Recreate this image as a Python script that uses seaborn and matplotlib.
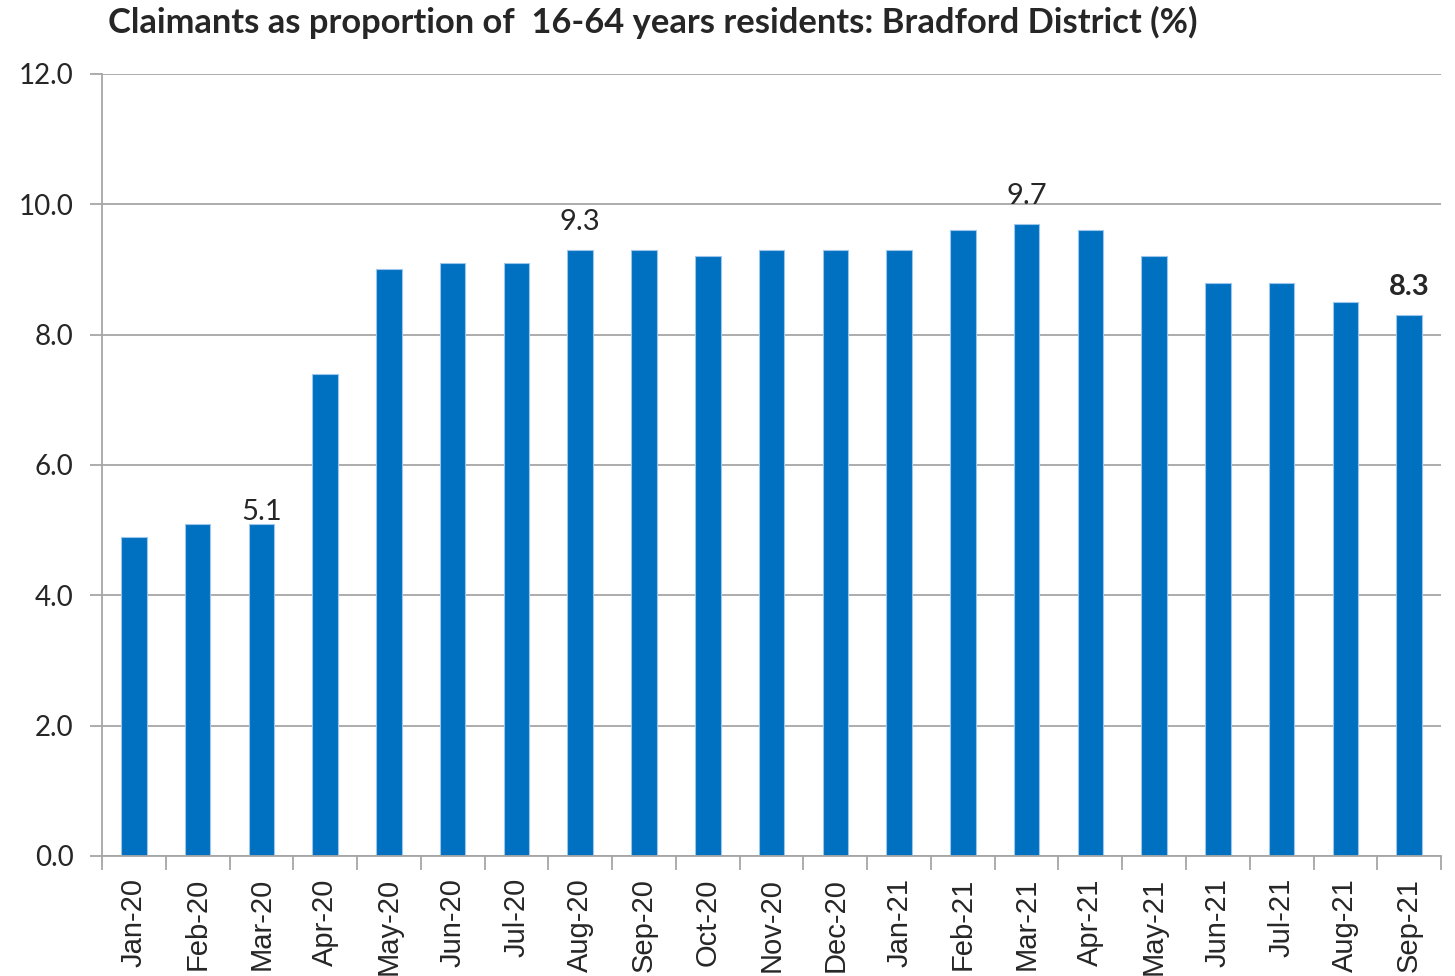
import matplotlib
matplotlib.use("Agg")
import matplotlib.pyplot as plt
import numpy as np
import pandas as pd
import seaborn as sns

MONTHS = [
    "Jan-20", "Feb-20", "Mar-20", "Apr-20", "May-20", "Jun-20", "Jul-20",
    "Aug-20", "Sep-20", "Oct-20", "Nov-20", "Dec-20", "Jan-21", "Feb-21",
    "Mar-21", "Apr-21", "May-21", "Jun-21", "Jul-21", "Aug-21", "Sep-21",
]
RATES = [
    4.9, 5.1, 5.1, 7.4, 9.0, 9.1, 9.1, 9.3, 9.3, 9.2, 9.3,
    9.3, 9.3, 9.6, 9.7, 9.6, 9.2, 8.8, 8.8, 8.5, 8.3,
]
LABELLED = ["Mar-20", "Aug-20", "Mar-21", "Sep-21"]
BOLD_LABEL = "Sep-21"
Y_TICKS = [0, 2, 4, 6, 8, 10, 12]

TITLE = "Claimants as proportion of  16-64 years residents: Bradford District (%)"
BAR_COLOR = "#0070C0"
GRID_COLOR = "#A6A6A6"
ROUND_FONT = ["Lato", "DejaVu Sans"]

sns.set_theme(style="white")
plt.rcParams["font.family"] = ["Liberation Sans", "DejaVu Sans"]

df = pd.DataFrame({"month": MONTHS, "rate": RATES})

fig = plt.figure(figsize=(14.55, 9.76), dpi=100)
ax = fig.add_axes([0.0701, 0.123, 0.9203, 0.8012])

sns.barplot(
    data=df, x="month", y="rate", color=BAR_COLOR, width=0.4,
    edgecolor="#9CC6EC", linewidth=0.8, saturation=1, ax=ax,
)

ax.set_ylim(0, 12)
ax.set_xlim(-0.5, len(MONTHS) - 0.5)
ax.set_yticks(Y_TICKS)
ax.set_yticklabels([f"{v:.1f}" for v in Y_TICKS], fontsize=20, family=ROUND_FONT)
ax.yaxis.grid(True, color=GRID_COLOR, linewidth=1.3)
ax.set_axisbelow(True)

# category ticks sit between bars, like the spreadsheet original
ax.set_xticks(np.arange(len(MONTHS)))
ax.set_xticklabels(MONTHS, rotation=90, fontsize=21)
ax.set_xticks(np.arange(len(MONTHS) + 1) - 0.5, minor=True)
ax.tick_params(axis="x", which="major", length=0, pad=16)
ax.tick_params(axis="x", which="minor", length=10, width=1.3, color=GRID_COLOR, bottom=True)
ax.tick_params(axis="y", length=9, width=1.3, color=GRID_COLOR, left=True, pad=11.5)

for side in ["top", "right"]:
    ax.spines[side].set_visible(False)
for side in ["left", "bottom"]:
    ax.spines[side].set_color(GRID_COLOR)
    ax.spines[side].set_linewidth(1.3)

ax.set_xlabel("")
ax.set_ylabel("")

# the Mar-20 label sits almost on its bar, the others float a little higher
for i, (m, v) in enumerate(zip(MONTHS, RATES)):
    if m not in LABELLED:
        continue
    gap = 0.05 if m == "Mar-20" else 0.31
    ax.text(i, v + gap, f"{v:.1f}", ha="center", va="baseline", fontsize=21,
            fontweight="bold" if m == BOLD_LABEL else "normal", family=ROUND_FONT)

fig.text(0.074, 0.977, TITLE, ha="left", va="center", fontsize=24.8,
         fontweight="bold", family=ROUND_FONT)

fig.savefig("out.png", dpi=100)
plt.close(fig)
